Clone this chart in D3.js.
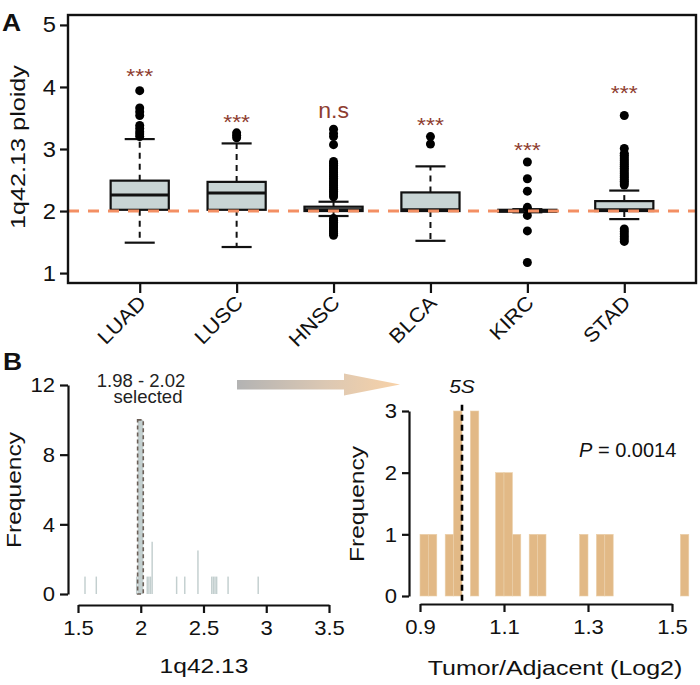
<!DOCTYPE html>
<html>
<head>
<meta charset="utf-8">
<script src="https://cdn.jsdelivr.net/npm/d3@7"></script>
<style>
  body { margin: 0; background: #fff; }
  svg { display: block; font-family: "Liberation Sans", Arial, Helvetica, sans-serif; }
</style>
</head>
<body>
<svg id="chart" width="700" height="685"></svg>
<script>
// ---------------- DATA ----------------
// Panel A: box plots of 1q42.13 ploidy
const categories = ["LUAD", "LUSC", "HNSC", "BLCA", "KIRC", "STAD"];
const q1 = [2.02, 2.02, 2.00, 2.00, 1.99, 2.00];
const medians = [2.26, 2.29, 2.02, 2.02, 2.00, 2.02];
const q3 = [2.49, 2.47, 2.07, 2.30, 2.02, 2.16];
const whiskerLow = [1.49, 1.42, 1.92, 1.52, 1.98, 1.87];
const whiskerHigh = [3.16, 3.09, 2.15, 2.72, 2.03, 2.33];
const outliersLUAD = [3.94, 3.66, 3.60, 3.54, 3.38, 3.33, 3.28, 3.24, 3.20];
const outliersLUSC = [3.26, 3.22, 3.18];
const outliersHNSC = [3.32, 3.25, 3.20, 3.07, 2.80, 2.77, 2.74, 2.71, 2.68, 2.65, 2.62, 2.59, 2.56, 2.53,
                      2.50, 2.47, 2.44, 2.41, 2.38, 2.35, 2.32, 2.29, 2.26, 2.23,
                      1.88, 1.85, 1.82, 1.79, 1.76, 1.73, 1.70, 1.67, 1.64, 1.61];
const outliersBLCA = [3.20, 3.08];
const outliersKIRC = [2.79, 2.52, 2.32, 2.06, 1.93, 1.68, 1.17];
const outliersSTAD = [3.54, 3.01, 2.93, 2.90, 2.87, 2.84, 2.81, 2.78, 2.75, 2.72, 2.69, 2.66, 2.63,
                      2.60, 2.57, 2.54, 2.51, 2.48, 2.45, 2.42,
                      1.71, 1.67, 1.63, 1.59, 1.55, 1.51];
const outliers = [outliersLUAD, outliersLUSC, outliersHNSC, outliersBLCA, outliersKIRC, outliersSTAD];
const sigLabels = ["***", "***", "n.s", "***", "***", "***"];
const sigY = [4.25, 3.52, 3.63, 3.47, 3.07, 3.99];
const yTicksA = [1, 2, 3, 4, 5];
const refPloidy = 2;

// Panel B left: histogram of 1q42.13
const hist1Start = [1.55, 1.64, 1.962, 2.046, 2.059, 2.072, 2.085, 2.28, 2.345, 2.45, 2.56, 2.573, 2.586, 2.599, 2.69, 2.93];
const hist1Count = [1, 1, 1, 1, 1, 1, 3, 1, 1, 2.5, 1, 1, 1, 1, 1, 1];
const hist1Bin = 0.014;
const selectedRange = [1.975, 2.02];
const selectedCount = 10;
const hist1XTicks = [1.5, 2, 2.5, 3, 3.5];
const hist1YTicks = [0, 4, 8, 12];

// Panel B right: histogram of Tumor/Adjacent (Log2)
const hist2Start = [0.90, 0.92, 0.96, 0.98, 1.02, 1.08, 1.10, 1.12, 1.16, 1.18, 1.28, 1.32, 1.34, 1.52];
const hist2Count = [1, 1, 1, 3, 3, 2, 2, 1, 1, 1, 1, 1, 1, 1];
const hist2Bin = 0.02;
const hist2XTicks = [0.9, 1.1, 1.3, 1.5];
const hist2YTicks = [0, 1, 2, 3];
const ref5S = 1.0;
const pValue = "0.0014";

// ---------------- DRAWING ----------------
const svg = d3.select("#chart");
const FONT = '"Liberation Sans", Arial, Helvetica, sans-serif';

function wideText(g, x, y, str, o = {}) {
  return g.append("text")
    .attr("transform", `translate(${x},${y}) rotate(${o.rotate || 0}) scale(${o.sx || 1},1)`)
    .attr("text-anchor", o.anchor || "middle")
    .attr("font-size", o.size || 20)
    .attr("font-weight", o.weight || "normal")
    .attr("font-style", o.style || "normal")
    .attr("fill", o.fill || "#111")
    .text(str);
}
function styleTicks(g, size, sx) {
  g.selectAll("text").attr("font-size", size).attr("font-family", FONT).attr("fill", "#111");
  if (sx) {
    g.selectAll("text").each(function () {
      const t = d3.select(this);
      const x = +t.attr("x") || 0, y = +t.attr("y") || 0;
      t.attr("transform", `translate(${x},${y}) scale(${sx},1)`).attr("x", 0).attr("y", 0);
    });
  }
}

// ===== Panel A =====
const A = { left: 68, right: 696, top: 15, bottom: 283 };
const xA = d3.scaleLinear().domain([0.26, 6.74]).range([A.left, A.right]);
const yA = d3.scaleLinear().domain([0.84, 5.16]).range([A.bottom, A.top]);
const boxW = 0.6, capW = 0.31;
const gA = svg.append("g");

// y axis
gA.append("g").attr("transform", `translate(${A.left},0)`)
  .call(d3.axisLeft(yA).tickValues(yTicksA).tickSize(8).tickPadding(4).tickFormat(d3.format("d")))
  .call(g => g.select(".domain").remove())
  .call(g => g.selectAll("line").attr("stroke", "#111").attr("stroke-width", 2.2))
  .call(g => styleTicks(g, 22, 1.08));

// x axis
gA.append("g").attr("transform", `translate(0,${A.bottom})`)
  .call(d3.axisBottom(xA).tickValues(d3.range(1, categories.length + 1)).tickSize(10).tickFormat(i => categories[i - 1]))
  .call(g => g.select(".domain").remove())
  .call(g => g.selectAll("line").attr("stroke", "#111").attr("stroke-width", 2.2))
  .call(g => g.selectAll("text").attr("font-size", 20).attr("font-family", FONT).attr("fill", "#111")
    .attr("text-anchor", "end").attr("x", 0).attr("y", 0).attr("dy", null)
    .attr("transform", "translate(7,21) rotate(-45) scale(1.1,1)"));

// boxes
categories.forEach((c, i) => {
  const cx = xA(i + 1);
  const hw = (xA(1 + boxW / 2) - xA(1));
  const cw = (xA(1 + capW / 2) - xA(1));
  const g = gA.append("g");
  g.append("line").attr("x1", cx).attr("x2", cx).attr("y1", yA(q3[i])).attr("y2", yA(whiskerHigh[i]))
    .attr("stroke", "#111").attr("stroke-width", 2).attr("stroke-dasharray", "6,5");
  g.append("line").attr("x1", cx).attr("x2", cx).attr("y1", yA(q1[i])).attr("y2", yA(whiskerLow[i]))
    .attr("stroke", "#111").attr("stroke-width", 2).attr("stroke-dasharray", "6,5");
  [whiskerHigh[i], whiskerLow[i]].forEach(v => {
    g.append("line").attr("x1", cx - cw).attr("x2", cx + cw).attr("y1", yA(v)).attr("y2", yA(v))
      .attr("stroke", "#111").attr("stroke-width", 2.2);
  });
  g.append("rect").attr("x", cx - hw).attr("width", 2 * hw)
    .attr("y", yA(q3[i])).attr("height", Math.max(1, yA(q1[i]) - yA(q3[i])))
    .attr("fill", "#c8d4d4").attr("stroke", "#111").attr("stroke-width", 2.2);
  g.append("line").attr("x1", cx - hw).attr("x2", cx + hw).attr("y1", yA(medians[i])).attr("y2", yA(medians[i]))
    .attr("stroke", "#111").attr("stroke-width", 3);
  g.selectAll("circle").data(outliers[i]).join("circle")
    .attr("cx", cx).attr("cy", d => yA(d)).attr("r", 4.5).attr("fill", "#000");
});

// reference dashed line at ploidy 2
gA.append("line").attr("x1", A.left).attr("x2", A.right).attr("y1", yA(refPloidy)).attr("y2", yA(refPloidy))
  .attr("stroke", "#f38f63").attr("stroke-width", 3).attr("stroke-dasharray", "11,9");

// significance labels
categories.forEach((c, i) => {
  const isNs = sigLabels[i] === "n.s";
  wideText(gA, xA(i + 1), yA(sigY[i]) + (isNs ? 8 : 12), sigLabels[i],
    { size: isNs ? 22 : 20, sx: isNs ? 1.05 : 1.15, fill: "#8e3d30" });
});

// border
gA.append("rect").attr("x", A.left).attr("y", A.top).attr("width", A.right - A.left).attr("height", A.bottom - A.top)
  .attr("fill", "none").attr("stroke", "#111").attr("stroke-width", 2.4);

// titles
wideText(gA, 25, (A.top + A.bottom) / 2 - 2, "1q42.13 ploidy", { rotate: -90, size: 21, sx: 1.2 });
wideText(gA, 2, 31, "A", { anchor: "start", size: 23, weight: "bold", sx: 1.15 });

// ===== Panel B left =====
const gB1 = svg.append("g");
const xH1 = d3.scaleLinear().domain([1.5, 3.5]).range([78, 329]);
const yH1 = d3.scaleLinear().domain([0, 12]).range([594, 385]);
const axis1Y = 605;

gB1.selectAll("rect.bar").data(hist1Start).join("rect").attr("class", "bar")
  .attr("x", d => xH1(d)).attr("width", d => xH1(d + hist1Bin) - xH1(d) - 0.3)
  .attr("y", (d, i) => yH1(hist1Count[i])).attr("height", (d, i) => yH1(0) - yH1(hist1Count[i]))
  .attr("fill", "#c3cfcf");
gB1.append("rect")
  .attr("x", xH1(selectedRange[0])).attr("width", xH1(selectedRange[1]) - xH1(selectedRange[0]))
  .attr("y", yH1(selectedCount)).attr("height", yH1(0) - yH1(selectedCount))
  .attr("fill", "#c3cfcf").attr("stroke", "#6b5f57").attr("stroke-width", 1.6).attr("stroke-dasharray", "4,3");

gB1.append("g").attr("transform", `translate(68,0)`)
  .call(d3.axisLeft(yH1).tickValues(hist1YTicks).tickSize(8).tickSizeOuter(0).tickPadding(5))
  .call(g => g.selectAll("line,path").attr("stroke", "#111").attr("stroke-width", 2.2))
  .call(g => styleTicks(g, 21, 1.05));
gB1.append("g").attr("transform", `translate(0,${axis1Y})`)
  .call(d3.axisBottom(xH1).tickValues(hist1XTicks).tickSize(8).tickSizeOuter(0).tickPadding(7).tickFormat(d3.format("")))
  .call(g => g.selectAll("line,path").attr("stroke", "#111").attr("stroke-width", 2.2))
  .call(g => styleTicks(g, 21, 1.05));

wideText(gB1, 21, 490, "Frequency", { rotate: -90, size: 21, sx: 1.17 });
wideText(gB1, 204, 673, "1q42.13", { size: 21, sx: 1.17 });
wideText(gB1, 141, 387, "1.98 - 2.02", { size: 18.5, fill: "#222" });
wideText(gB1, 148, 403, "selected", { size: 18.5, fill: "#222" });
wideText(gB1, 3, 370, "B", { anchor: "start", size: 23, weight: "bold", sx: 1.15 });

// arrow
const defs = svg.append("defs");
const grad = defs.append("linearGradient").attr("id", "arrowGrad").attr("x1", "0%").attr("x2", "100%");
grad.append("stop").attr("offset", "0%").attr("stop-color", "#b3b3b3");
grad.append("stop").attr("offset", "55%").attr("stop-color", "#dcc8b3");
grad.append("stop").attr("offset", "100%").attr("stop-color", "#f8d2a8");
svg.append("path")
  .attr("d", "M237,380 L344,380 L344,373.5 L400,384.5 L344,395.5 L344,389.5 L237,389.5 Z")
  .attr("fill", "url(#arrowGrad)");

// ===== Panel B right =====
const gB2 = svg.append("g");
const xH2 = d3.scaleLinear().domain([0.9, 1.5]).range([420, 672]);
const yH2 = d3.scaleLinear().domain([0, 3]).range([596, 411]);
const axis2Y = 604;

gB2.selectAll("rect.bar").data(hist2Start).join("rect").attr("class", "bar")
  .attr("x", d => xH2(d)).attr("width", d => xH2(d + hist2Bin) - xH2(d))
  .attr("y", (d, i) => yH2(hist2Count[i])).attr("height", (d, i) => yH2(0) - yH2(hist2Count[i]))
  .attr("fill", "#e2b986").attr("stroke", "#ecd0aa").attr("stroke-width", 0.6);

gB2.append("line").attr("x1", xH2(ref5S)).attr("x2", xH2(ref5S)).attr("y1", yH2(3.1)).attr("y2", axis2Y)
  .attr("stroke", "#000").attr("stroke-width", 2.6).attr("stroke-dasharray", "6,4");

gB2.append("g").attr("transform", `translate(409,0)`)
  .call(d3.axisLeft(yH2).tickValues(hist2YTicks).tickSize(7).tickSizeOuter(0).tickPadding(5).tickFormat(d3.format("d")))
  .call(g => g.selectAll("line,path").attr("stroke", "#111").attr("stroke-width", 2.2))
  .call(g => styleTicks(g, 21, 1.05));
gB2.append("g").attr("transform", `translate(0,${axis2Y})`)
  .call(d3.axisBottom(xH2).tickValues(hist2XTicks).tickSize(8).tickSizeOuter(0).tickPadding(7).tickFormat(d3.format(".1f")))
  .call(g => g.selectAll("line,path").attr("stroke", "#111").attr("stroke-width", 2.2))
  .call(g => styleTicks(g, 21, 1.05));

wideText(gB2, 364, 504, "Frequency", { rotate: -90, size: 21, sx: 1.17 });
wideText(gB2, 555, 675, "Tumor/Adjacent (Log2)", { size: 21, sx: 1.19 });
wideText(gB2, xH2(ref5S), 393, "5S", { size: 19, style: "italic", sx: 1.1 });

const pt = gB2.append("text").attr("x", 579).attr("y", 457).attr("font-size", 20).attr("fill", "#111");
pt.append("tspan").attr("font-style", "italic").text("P");
pt.append("tspan").text(" = " + pValue);
</script>
</body>
</html>
